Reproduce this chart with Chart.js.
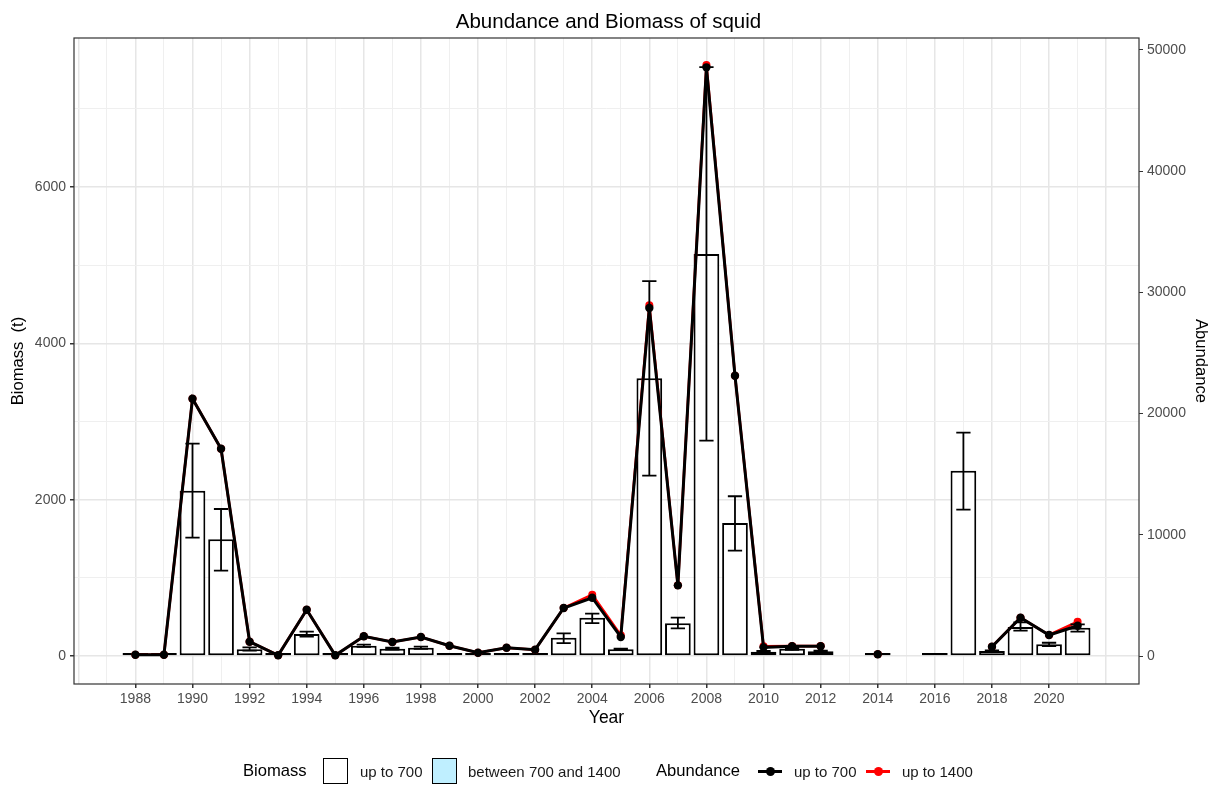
<!DOCTYPE html>
<html>
<head>
<meta charset="utf-8">
<script src="https://cdn.jsdelivr.net/npm/chart.js@4.4.1/dist/chart.umd.min.js"></script>
<style>
  body { margin: 0; background: #fff; font-family: 'Liberation Sans', Arial, sans-serif; }
  #wrap { position: relative; width: 1217px; height: 789px; }
  #legend span { position: absolute; white-space: nowrap; line-height: 1; }
  .ttl { font-size: 16.6px; color: #000; top: 763px; }
  .lbl { font-size: 15px; color: #1a1a1a; top: 764px; }
  .box { width: 23px; height: 24px; top: 758px; border: 1.5px solid #000; background: #fff; }
  .box.blue { background: #bfefff; }
  .key { width: 24px; height: 3px; top: 770px; }
  .key i { position: absolute; left: 8px; top: -3px; width: 9px; height: 9px; border-radius: 50%; }
</style>
</head>
<body>
<div id="wrap">
  <canvas id="chart" width="1217" height="789"></canvas>
  <div id="legend">
    <span class="ttl" style="left:243px">Biomass</span>
    <span class="box" style="left:323px"></span>
    <span class="lbl" style="left:360px">up to 700</span>
    <span class="box blue" style="left:432px"></span>
    <span class="lbl" style="left:468px">between 700 and 1400</span>
    <span class="ttl" style="left:656px">Abundance</span>
    <span class="key" style="left:758px;background:#000"><i style="background:#000"></i></span>
    <span class="lbl" style="left:794px">up to 700</span>
    <span class="key" style="left:866px;background:#f00"><i style="background:#f00"></i></span>
    <span class="lbl" style="left:902px">up to 1400</span>
  </div>
</div>
<script>
// Datos
const years = [1988, 1989, 1990, 1991, 1992, 1993, 1994, 1995, 1996, 1997, 1998, 1999, 2000, 2001, 2002, 2003, 2004,
  2005, 2006, 2007, 2008, 2009, 2010, 2011, 2012, 2013, 2014, 2015, 2016, 2017, 2018, 2019, 2020, 2021];
const biomass = [10, 10, 2115, 1493, 86, 5, 281, 5, 132, 94, 106, 20, 15, 15, 15, 235, 490,
  86, 3553, 418, 5144, 1702, 55, 93, 60, null, 5, null, 5, 2371, 64, 371, 150, 362];
const biomassLow = [null, null, 1514, 1092, 70, null, 247, null, 118, 82, 92, null, null, null, null, 166, 422,
  78, 2307, 354, 2755, 1347, 45, 80, 50, null, null, null, null, 1872, 55, 324, 128, 311];
const biomassHigh = [null, null, 2717, 1881, 110, null, 311, null, 146, 106, 120, null, null, null, null, 290, 541,
  94, 4795, 490, 7533, 2044, 65, 106, 70, null, null, null, null, 2857, 73, 431, 170, 406];
const abundance700 = [100, 100, 21230, 17100, 1180, 60, 3820, 60, 1625, 1155, 1570, 850, 275, 685, 520, 3960, 4810,
  1570, 28710, 5830, 48570, 23125, 715, 800, 800, null, 140, null, null, null, 770, 3160, 1730, 2500];
const abundance1400 = [100, 100, 21230, 17100, 1180, 60, 3820, 60, 1625, 1155, 1570, 850, 275, 685, 520, 3960, 5060,
  1710, 28930, 5830, 48760, 23125, 800, 820, 830, null, 140, null, null, null, 770, 3160, 1730, 2830];
const xTickYears = [1988, 1990, 1992, 1994, 1996, 1998, 2000, 2002, 2004, 2006, 2008, 2010, 2012, 2014, 2016, 2018, 2020];
const biomassTicks = [0, 2000, 4000, 6000];
const abundanceTicks = [0, 10000, 20000, 30000, 40000, 50000];

// Rangos del panel (eje secundario = biomasa * 6.4495)
const bioMin = -358, bioMax = 7906;
const ratio = 6.4495;

const font = 'Liberation Sans, Arial, sans-serif';
const gridMajor = '#e6e6e6';
const gridMinor = '#efefef';

// Barras de error
const errorBars = {
  id: 'errorBars',
  afterDatasetsDraw(chart) {
    const { ctx, scales: { x, y } } = chart;
    const half = x.getPixelForValue(1988.25) - x.getPixelForValue(1988);
    ctx.save();
    ctx.strokeStyle = '#000';
    ctx.lineWidth = 1.8;
    years.forEach((yr, i) => {
      if (biomassLow[i] == null) return;
      const px = x.getPixelForValue(yr);
      const top = y.getPixelForValue(biomassHigh[i]);
      const bot = y.getPixelForValue(biomassLow[i]);
      ctx.beginPath();
      ctx.moveTo(px, top); ctx.lineTo(px, bot);
      ctx.moveTo(px - half, top); ctx.lineTo(px + half, top);
      ctx.moveTo(px - half, bot); ctx.lineTo(px + half, bot);
      ctx.stroke();
    });
    ctx.restore();
  }
};

// Borde del panel
const panelBorder = {
  id: 'panelBorder',
  afterDraw(chart) {
    const { ctx, chartArea: a } = chart;
    ctx.save();
    ctx.strokeStyle = '#333';
    ctx.lineWidth = 1.2;
    ctx.strokeRect(a.left, a.top, a.right - a.left, a.bottom - a.top);
    ctx.restore();
  }
};

const ctx = document.getElementById('chart').getContext('2d');
new Chart(ctx, {
  type: 'bar',
  data: {
    datasets: [
      {
        type: 'line',
        label: 'up to 700',
        data: years.map((yr, i) => ({ x: yr, y: abundance700[i] })),
        yAxisID: 'y2',
        borderColor: '#000',
        backgroundColor: '#000',
        borderWidth: 3,
        pointRadius: 4.2,
        pointBorderWidth: 0,
        spanGaps: false,
        order: 1
      },
      {
        type: 'line',
        label: 'up to 1400',
        data: years.map((yr, i) => ({ x: yr, y: abundance1400[i] })),
        yAxisID: 'y2',
        borderColor: '#f00',
        backgroundColor: '#f00',
        borderWidth: 2.6,
        pointRadius: 4,
        pointBorderWidth: 0,
        spanGaps: false,
        order: 2
      },
      {
        type: 'bar',
        label: 'Biomass',
        data: years.map((yr, i) => ({ x: yr, y: biomass[i] })),
        yAxisID: 'y',
        backgroundColor: '#fff',
        borderColor: '#000',
        borderWidth: 2,
        borderSkipped: false,
        minBarLength: 3,
        barPercentage: 0.9,
        categoryPercentage: 1,
        order: 3
      }
    ]
  },
  options: {
    responsive: false,
    animation: false,
    layout: { padding: { left: 0, right: 0, top: 0, bottom: 55 } },
    plugins: {
      legend: { display: false },
      tooltip: { enabled: false },
      title: {
        display: true,
        text: 'Abundance and Biomass of squid',
        color: '#000',
        font: { family: font, size: 20.5, weight: 'normal' },
        padding: { top: 10, bottom: 3.4 }
      }
    },
    scales: {
      x: {
        type: 'linear',
        min: 1985.85,
        max: 2023.15,
        offset: false,
        afterBuildTicks: s => { s.ticks = []; for (let v = 1986; v <= 2022; v++) s.ticks.push({ value: v }); },
        afterFit: s => { s.height = 50; },
        ticks: {
          autoSkip: false, maxRotation: 0, padding: 3, color: '#4d4d4d',
          font: { family: font, size: 14 },
          callback: v => xTickYears.includes(v) ? String(v) : ''
        },
        grid: {
          offset: false,
          tickLength: 4,
          lineWidth: c => c.tick && c.tick.value % 2 === 0 ? 1.5 : 1,
          color: c => c.tick && c.tick.value % 2 === 0 ? gridMajor : gridMinor,
          tickColor: c => c.tick && xTickYears.includes(c.tick.value) ? '#333' : 'rgba(0,0,0,0)'
        },
        border: { display: false },
        title: {
          display: true, text: 'Year', color: '#000',
          font: { family: font, size: 17.5 }, padding: { top: 0, bottom: 5 }
        }
      },
      y: {
        position: 'left',
        min: bioMin,
        max: bioMax,
        afterBuildTicks: s => { s.ticks = []; for (let v = 0; v <= 7000; v += 1000) s.ticks.push({ value: v }); },
        afterFit: s => { s.width = 74; },
        ticks: {
          padding: 4, color: '#4d4d4d',
          font: { family: font, size: 14 },
          callback: v => biomassTicks.includes(v) ? String(v) : ''
        },
        grid: {
          tickLength: 4,
          lineWidth: c => c.tick && c.tick.value % 2000 === 0 ? 1.5 : 1,
          color: c => c.tick && c.tick.value % 2000 === 0 ? gridMajor : gridMinor,
          tickColor: c => c.tick && biomassTicks.includes(c.tick.value) ? '#333' : 'rgba(0,0,0,0)'
        },
        border: { display: false },
        title: {
          display: true, text: 'Biomass  (t)', color: '#000',
          font: { family: font, size: 16.6 }, padding: { top: 8, bottom: 0 }
        }
      },
      y2: {
        position: 'right',
        min: bioMin * ratio,
        max: bioMax * ratio,
        afterBuildTicks: s => { s.ticks = abundanceTicks.map(v => ({ value: v })); },
        afterFit: s => { s.width = 78; },
        ticks: {
          padding: 4, color: '#4d4d4d',
          font: { family: font, size: 14 },
          callback: v => String(v)
        },
        grid: { drawOnChartArea: false, tickLength: 4, tickColor: '#333' },
        border: { display: false },
        title: {
          display: true, text: 'Abundance', color: '#000',
          font: { family: font, size: 16.6 }, padding: { top: 6, bottom: 0 }
        }
      }
    }
  },
  plugins: [errorBars, panelBorder]
});
</script>
</body>
</html>
